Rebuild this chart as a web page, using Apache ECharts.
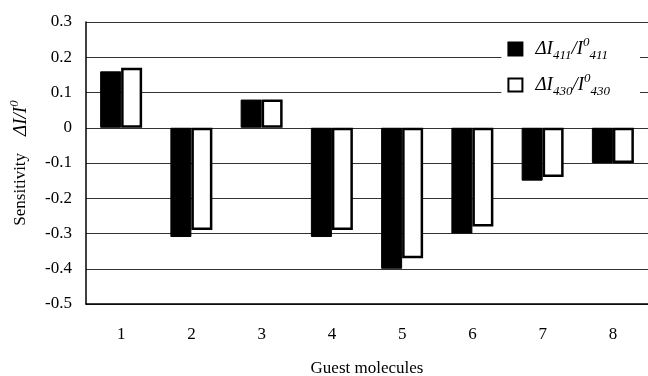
<!DOCTYPE html>
<html>
<head>
<meta charset="utf-8">
<script src="https://cdn.jsdelivr.net/npm/echarts@6/dist/echarts.min.js"></script>
<style>
  html, body { margin: 0; padding: 0; background: #fff; }
  #chart { width: 648px; height: 376px; }
</style>
</head>
<body>
<div id="chart"></div>
<script>
// guest molecules 1..8
const categories = ['1', '2', '3', '4', '5', '6', '7', '8']
// dI411/I0411 (black) and dI430/I0430 (white)
const sens411 = [0.16, -0.31, 0.08, -0.31, -0.40, -0.30, -0.15, -0.10]
const sens430 = [0.17, -0.29, 0.08, -0.29, -0.37, -0.28, -0.14, -0.10]
const yTicks = { min: -0.5, max: 0.3, step: 0.1 }

const serif = 'Liberation Serif'
const rich = {
  i: { fontFamily: serif, fontStyle: 'italic', fontSize: 19, color: '#000', lineHeight: 26, verticalAlign: 'middle' },
  sub: { fontFamily: serif, fontStyle: 'italic', fontSize: 13, color: '#000', lineHeight: 13, verticalAlign: 'bottom' },
  sup: { fontFamily: serif, fontStyle: 'italic', fontSize: 13, color: '#000', lineHeight: 14, verticalAlign: 'top' },
  n: { fontFamily: serif, fontSize: 17, color: '#000', lineHeight: 26, verticalAlign: 'middle' }
}

let myChart = echarts.init(document.getElementById('chart'))
myChart.setOption({
  animation: false,
  textStyle: { fontFamily: serif, color: '#000' },
  grid: { left: 86, right: 0, top: 22, bottom: 72, outerBoundsMode: 'none', containLabel: false },
  legend: {
    right: 8,
    top: 35,
    orient: 'vertical',
    icon: 'rect',
    itemWidth: 14,
    itemHeight: 13,
    itemGap: 10,
    backgroundColor: '#fff',
    padding: [1, 30, 1, 6],
    formatter: name => name === 'a'
      ? '{i|ΔI}{sub|411}{i|/I}{sup|0}{sub|411}'
      : '{i|ΔI}{sub|430}{i|/I}{sup|0}{sub|430}',
    textStyle: { rich: rich, padding: [0, 0, 0, 8] }
  },
  xAxis: {
    type: 'category',
    data: categories,
    name: 'Guest molecules',
    nameLocation: 'middle',
    nameGap: 56,
    nameTextStyle: { fontFamily: serif, fontSize: 17, color: '#000' },
    axisLine: { onZero: false, lineStyle: { color: '#000', width: 1.5 } },
    axisTick: { show: false },
    axisLabel: { fontFamily: serif, fontSize: 17, color: '#000', margin: 22 }
  },
  yAxis: {
    type: 'value',
    min: yTicks.min,
    max: yTicks.max,
    interval: yTicks.step,
    name: '{n|Sensitivity}{n|    }{i|ΔI/I}{sup|0}',
    nameLocation: 'middle',
    nameRotate: 90,
    nameGap: 52,
    nameTextStyle: { rich: rich },
    axisLine: { show: true, lineStyle: { color: '#000', width: 1.5 } },
    axisTick: { show: false },
    axisLabel: {
      fontFamily: serif, fontSize: 17, color: '#000', margin: 14,
      formatter: v => {
        let r = Math.round(v * 10) / 10
        return r === 0 ? '0' : String(r)
      }
    },
    splitLine: { lineStyle: { color: '#333', width: 1 } }
  },
  series: [
    {
      name: 'a',
      type: 'bar',
      data: sens411,
      barWidth: 21,
      barGap: '0%',
      itemStyle: { color: '#000', borderColor: '#000', borderWidth: 1 }
    },
    {
      name: 'b',
      type: 'bar',
      data: sens430,
      barWidth: 21,
      itemStyle: { color: '#fff', borderColor: '#000', borderWidth: 2.5 }
    }
  ]
})
</script>
</body>
</html>
